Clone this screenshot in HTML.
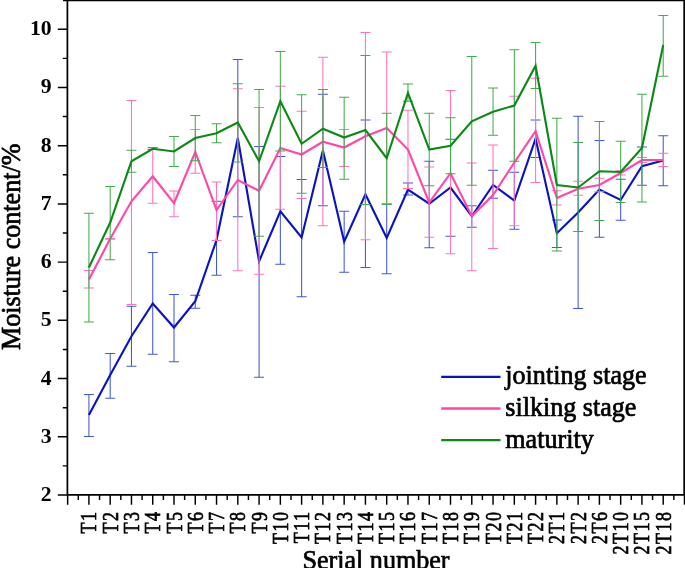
<!DOCTYPE html>
<html lang="en"><head><meta charset="utf-8"><title>Moisture content chart</title>
<style>
html,body{margin:0;padding:0;background:#fff;}
body{width:685px;height:568px;overflow:hidden;}
svg{display:block;}
</style></head><body>
<svg width="685" height="568" viewBox="0 0 685 568">
<rect width="685" height="568" fill="#fff"/>
<path d="M88.92 394.50V436.50M83.92 394.50h10 M83.92 436.50h10 M110.19 353.50V398.25M105.19 353.50h10 M105.19 398.25h10 M131.46 306.25V366.25M126.46 306.25h10 M126.46 366.25h10 M152.73 252.50V354.25M147.73 252.50h10 M147.73 354.25h10 M174.00 294.50V361.75M169.00 294.50h10 M169.00 361.75h10 M195.27 295.25V308.25M190.27 295.25h10 M190.27 308.25h10 M216.54 201.25V275.25M211.54 201.25h10 M211.54 275.25h10 M237.81 59.50V216.75M232.81 59.50h10 M232.81 216.75h10 M259.08 146.50V377.25M254.08 146.50h10 M254.08 377.25h10 M280.35 156.50V264.25M275.35 156.50h10 M275.35 264.25h10 M301.62 179.50V296.75M296.62 179.50h10 M296.62 296.75h10 M322.89 94.25V205.75M317.89 94.25h10 M317.89 205.75h10 M344.16 211.25V272.25M339.16 211.25h10 M339.16 272.25h10 M365.43 120.00V267.50M360.43 120.00h10 M360.43 267.50h10 M386.70 204.10V273.75M381.70 204.10h10 M381.70 273.75h10 M407.97 183.00V195.00M402.97 183.00h10 M402.97 195.00h10 M429.24 161.25V247.75M424.24 161.25h10 M424.24 247.75h10 M450.51 139.25V236.25M445.51 139.25h10 M445.51 236.25h10 M471.78 205.75V227.25M466.78 205.75h10 M466.78 227.25h10 M493.05 170.25V198.25M488.05 170.25h10 M488.05 198.25h10 M514.32 172.25V229.25M509.32 172.25h10 M509.32 229.25h10 M535.59 120.00V157.50M530.59 120.00h10 M530.59 157.50h10 M556.86 220.00V247.50M551.86 220.00h10 M551.86 247.50h10 M578.13 116.25V308.50M573.13 116.25h10 M573.13 308.50h10 M599.40 140.50V237.25M594.40 140.50h10 M594.40 237.25h10 M620.67 179.25V220.25M615.67 179.25h10 M615.67 220.25h10 M641.94 147.00V185.25M636.94 147.00h10 M636.94 185.25h10 M663.21 135.75V185.75M658.21 135.75h10 M658.21 185.75h10" stroke="#4258da" stroke-width="1.05" fill="none"/>
<polyline points="88.92,415.00 110.19,375.00 131.46,336.25 152.73,303.50 174.00,327.50 195.27,301.25 216.54,240.00 237.81,138.00 259.08,261.25 280.35,211.25 301.62,237.50 322.89,150.50 344.16,241.75 365.43,194.25 386.70,238.00 407.97,189.50 429.24,203.75 450.51,187.50 471.78,216.25 493.05,185.00 514.32,200.50 535.59,138.75 556.86,233.25 578.13,212.50 599.40,189.50 620.67,200.00 641.94,166.25 663.21,160.50" stroke="#0a14be" stroke-width="2.12" fill="none" stroke-linejoin="miter"/>
<path d="M88.92 270.50V288.00M83.92 270.50h10 M83.92 288.00h10 M110.19 238.40V239.20M105.19 238.40h10 M105.19 239.20h10 M131.46 100.50V304.50M126.46 100.50h10 M126.46 304.50h10 M152.73 149.00V203.25M147.73 149.00h10 M147.73 203.25h10 M174.00 191.00V216.75M169.00 191.00h10 M169.00 216.75h10 M195.27 129.50V173.25M190.27 129.50h10 M190.27 173.25h10 M216.54 182.00V240.50M211.54 182.00h10 M211.54 240.50h10 M237.81 88.75V270.75M232.81 88.75h10 M232.81 270.75h10 M259.08 107.50V274.25M254.08 107.50h10 M254.08 274.25h10 M280.35 86.25V209.25M275.35 86.25h10 M275.35 209.25h10 M301.62 111.25V198.50M296.62 111.25h10 M296.62 198.50h10 M322.89 57.25V225.75M317.89 57.25h10 M317.89 225.75h10 M344.16 129.50V166.50M339.16 129.50h10 M339.16 166.50h10 M365.43 32.50V239.75M360.43 32.50h10 M360.43 239.75h10 M386.70 52.00V203.40M381.70 52.00h10 M381.70 203.40h10 M407.97 110.25V188.60M402.97 110.25h10 M402.97 188.60h10 M429.24 167.00V237.25M424.24 167.00h10 M424.24 237.25h10 M450.51 90.50V253.75M445.51 90.50h10 M445.51 253.75h10 M471.78 163.00V270.75M466.78 163.00h10 M466.78 270.75h10 M493.05 145.00V248.50M488.05 145.00h10 M488.05 248.50h10 M514.32 96.25V225.75M509.32 96.25h10 M509.32 225.75h10 M535.59 78.25V182.50M530.59 78.25h10 M530.59 182.50h10 M556.86 190.75V205.00M551.86 190.75h10 M551.86 205.00h10 M578.13 181.25V195.25M573.13 181.25h10 M573.13 195.25h10 M599.40 178.25V191.75M594.40 178.25h10 M594.40 191.75h10 M620.67 170.75V175.00M615.67 170.75h10 M615.67 175.00h10 M641.94 157.50V162.50M636.94 157.50h10 M636.94 162.50h10 M663.21 153.25V166.50M658.21 153.25h10 M658.21 166.50h10" stroke="#ff74c0" stroke-width="1.05" fill="none"/>
<polyline points="88.92,279.50 110.19,238.75 131.46,201.25 152.73,176.25 174.00,203.25 195.27,152.00 216.54,210.00 237.81,180.00 259.08,190.75 280.35,148.00 301.62,154.50 322.89,141.75 344.16,147.50 365.43,136.25 386.70,128.00 407.97,149.50 429.24,202.50 450.51,173.25 471.78,216.25 493.05,195.00 514.32,162.50 535.59,131.25 556.86,198.00 578.13,188.75 599.40,185.00 620.67,173.00 641.94,160.00 663.21,160.00" stroke="#ff47a8" stroke-width="2.12" fill="none" stroke-linejoin="miter"/>
<path d="M88.92 213.25V322.00M83.92 213.25h10 M83.92 322.00h10 M110.19 186.50V259.75M105.19 186.50h10 M105.19 259.75h10 M131.46 150.25V172.25M126.46 150.25h10 M126.46 172.25h10 M152.73 147.50V149.50M147.73 147.50h10 M147.73 149.50h10 M174.00 136.50V166.50M169.00 136.50h10 M169.00 166.50h10 M195.27 115.50V160.75M190.27 115.50h10 M190.27 160.75h10 M216.54 123.75V142.75M211.54 123.75h10 M211.54 142.75h10 M237.81 83.75V162.00M232.81 83.75h10 M232.81 162.00h10 M259.08 89.50V236.25M254.08 89.50h10 M254.08 236.25h10 M280.35 51.50V151.00M275.35 51.50h10 M275.35 151.00h10 M301.62 94.75V193.25M296.62 94.75h10 M296.62 193.25h10 M322.89 89.50V167.50M317.89 89.50h10 M317.89 167.50h10 M344.16 97.25V179.25M339.16 97.25h10 M339.16 179.25h10 M365.43 55.50V204.50M360.43 55.50h10 M360.43 204.50h10 M386.70 113.25V204.40M381.70 113.25h10 M381.70 204.40h10 M407.97 84.00V101.25M402.97 84.00h10 M402.97 101.25h10 M429.24 113.25V185.75M424.24 113.25h10 M424.24 185.75h10 M450.51 117.75V173.75M445.51 117.75h10 M445.51 173.75h10 M471.78 56.50V185.25M466.78 56.50h10 M466.78 185.25h10 M493.05 88.00V135.25M488.05 88.00h10 M488.05 135.25h10 M514.32 49.75V161.25M509.32 49.75h10 M509.32 161.25h10 M535.59 42.50V88.50M530.59 42.50h10 M530.59 88.50h10 M556.86 118.25V251.00M551.86 118.25h10 M551.86 251.00h10 M578.13 142.50V231.50M573.13 142.50h10 M573.13 231.50h10 M599.40 121.50V220.50M594.40 121.50h10 M594.40 220.50h10 M620.67 141.25V202.50M615.67 141.25h10 M615.67 202.50h10 M641.94 94.25V202.00M636.94 94.25h10 M636.94 202.00h10 M663.21 15.50V76.25M658.21 15.50h10 M658.21 76.25h10" stroke="#44ac4e" stroke-width="1.05" fill="none"/>
<polyline points="88.92,267.50 110.19,222.50 131.46,161.25 152.73,148.75 174.00,151.50 195.27,138.00 216.54,133.25 237.81,122.50 259.08,161.25 280.35,101.25 301.62,143.75 322.89,128.75 344.16,137.50 365.43,130.00 386.70,158.25 407.97,93.00 429.24,149.50 450.51,145.75 471.78,121.25 493.05,111.75 514.32,105.50 535.59,65.75 556.86,185.00 578.13,187.50 599.40,171.25 620.67,172.00 641.94,148.00 663.21,45.00" stroke="#0a8a14" stroke-width="2.12" fill="none" stroke-linejoin="miter"/>
<path d="M67.40 0V495.60 M66.55 494.75H686 M684.2 0V495.60 M63 0.45H686" stroke="#000" stroke-width="1.75" fill="none"/>
<path d="M57.80 495.00H67.40 M62.80 465.89H67.40 M57.80 436.78H67.40 M62.80 407.67H67.40 M57.80 378.56H67.40 M62.80 349.45H67.40 M57.80 320.34H67.40 M62.80 291.23H67.40 M57.80 262.12H67.40 M62.80 233.01H67.40 M57.80 203.90H67.40 M62.80 174.79H67.40 M57.80 145.68H67.40 M62.80 116.57H67.40 M57.80 87.46H67.40 M62.80 58.35H67.40 M57.80 29.24H67.40 M67.65 494.75V504.85 M78.29 494.75V499.95 M88.92 494.75V504.85 M99.56 494.75V499.95 M110.19 494.75V504.85 M120.83 494.75V499.95 M131.46 494.75V504.85 M142.09 494.75V499.95 M152.73 494.75V504.85 M163.37 494.75V499.95 M174.00 494.75V504.85 M184.63 494.75V499.95 M195.27 494.75V504.85 M205.91 494.75V499.95 M216.54 494.75V504.85 M227.18 494.75V499.95 M237.81 494.75V504.85 M248.44 494.75V499.95 M259.08 494.75V504.85 M269.72 494.75V499.95 M280.35 494.75V504.85 M290.99 494.75V499.95 M301.62 494.75V504.85 M312.25 494.75V499.95 M322.89 494.75V504.85 M333.52 494.75V499.95 M344.16 494.75V504.85 M354.79 494.75V499.95 M365.43 494.75V504.85 M376.07 494.75V499.95 M386.70 494.75V504.85 M397.34 494.75V499.95 M407.97 494.75V504.85 M418.61 494.75V499.95 M429.24 494.75V504.85 M439.88 494.75V499.95 M450.51 494.75V504.85 M461.14 494.75V499.95 M471.78 494.75V504.85 M482.41 494.75V499.95 M493.05 494.75V504.85 M503.68 494.75V499.95 M514.32 494.75V504.85 M524.96 494.75V499.95 M535.59 494.75V504.85 M546.23 494.75V499.95 M556.86 494.75V504.85 M567.50 494.75V499.95 M578.13 494.75V504.85 M588.76 494.75V499.95 M599.40 494.75V504.85 M610.03 494.75V499.95 M620.67 494.75V504.85 M631.30 494.75V499.95 M641.94 494.75V504.85 M652.57 494.75V499.95 M663.21 494.75V504.85 M673.84 494.75V499.95 M684.48 494.75V504.85" stroke="#000" stroke-width="1.45" fill="none"/>
<g font-family="'Liberation Serif', serif" font-weight="bold" font-size="21.7" text-anchor="end" fill="#000">
<text x="51.7" y="501.00">2</text>
<text x="51.7" y="442.78">3</text>
<text x="51.7" y="384.56">4</text>
<text x="51.7" y="326.34">5</text>
<text x="51.7" y="268.12">6</text>
<text x="51.7" y="209.90">7</text>
<text x="51.7" y="151.68">8</text>
<text x="51.7" y="93.46">9</text>
<text x="51.7" y="35.24">10</text>
</g>
<g font-family="'Liberation Serif', serif" font-size="18" letter-spacing="1.5" text-anchor="end" fill="#000" stroke="#000" stroke-width="0.55">
<text transform="translate(88.92 512) rotate(-90) scale(1 1.27)" x="1.5" y="5.9">T1</text>
<text transform="translate(110.19 512) rotate(-90) scale(1 1.27)" x="1.5" y="5.9">T2</text>
<text transform="translate(131.46 512) rotate(-90) scale(1 1.27)" x="1.5" y="5.9">T3</text>
<text transform="translate(152.73 512) rotate(-90) scale(1 1.27)" x="1.5" y="5.9">T4</text>
<text transform="translate(174.00 512) rotate(-90) scale(1 1.27)" x="1.5" y="5.9">T5</text>
<text transform="translate(195.27 512) rotate(-90) scale(1 1.27)" x="1.5" y="5.9">T6</text>
<text transform="translate(216.54 512) rotate(-90) scale(1 1.27)" x="1.5" y="5.9">T7</text>
<text transform="translate(237.81 512) rotate(-90) scale(1 1.27)" x="1.5" y="5.9">T8</text>
<text transform="translate(259.08 512) rotate(-90) scale(1 1.27)" x="1.5" y="5.9">T9</text>
<text transform="translate(280.35 512) rotate(-90) scale(1 1.27)" x="1.5" y="5.9">T10</text>
<text transform="translate(301.62 512) rotate(-90) scale(1 1.27)" x="1.5" y="5.9">T11</text>
<text transform="translate(322.89 512) rotate(-90) scale(1 1.27)" x="1.5" y="5.9">T12</text>
<text transform="translate(344.16 512) rotate(-90) scale(1 1.27)" x="1.5" y="5.9">T13</text>
<text transform="translate(365.43 512) rotate(-90) scale(1 1.27)" x="1.5" y="5.9">T14</text>
<text transform="translate(386.70 512) rotate(-90) scale(1 1.27)" x="1.5" y="5.9">T15</text>
<text transform="translate(407.97 512) rotate(-90) scale(1 1.27)" x="1.5" y="5.9">T16</text>
<text transform="translate(429.24 512) rotate(-90) scale(1 1.27)" x="1.5" y="5.9">T17</text>
<text transform="translate(450.51 512) rotate(-90) scale(1 1.27)" x="1.5" y="5.9">T18</text>
<text transform="translate(471.78 512) rotate(-90) scale(1 1.27)" x="1.5" y="5.9">T19</text>
<text transform="translate(493.05 512) rotate(-90) scale(1 1.27)" x="1.5" y="5.9">T20</text>
<text transform="translate(514.32 512) rotate(-90) scale(1 1.27)" x="1.5" y="5.9">T21</text>
<text transform="translate(535.59 512) rotate(-90) scale(1 1.27)" x="1.5" y="5.9">T22</text>
<text transform="translate(556.86 512) rotate(-90) scale(1 1.27)" x="1.5" y="5.9">2T1</text>
<text transform="translate(578.13 512) rotate(-90) scale(1 1.27)" x="1.5" y="5.9">2T2</text>
<text transform="translate(599.40 512) rotate(-90) scale(1 1.27)" x="1.5" y="5.9">2T6</text>
<text transform="translate(620.67 512) rotate(-90) scale(1 1.27)" x="1.5" y="5.9">2T10</text>
<text transform="translate(641.94 512) rotate(-90) scale(1 1.27)" x="1.5" y="5.9">2T15</text>
<text transform="translate(663.21 512) rotate(-90) scale(1 1.27)" x="1.5" y="5.9">2T18</text>
</g>
<g font-family="'Liberation Serif', serif" font-size="26.1" fill="#000" stroke="#000" stroke-width="0.7" stroke-linejoin="round">
<text transform="translate(19.7 246.8) rotate(-90) scale(1 1.07)" text-anchor="middle">Moisture content/%</text>
<text transform="translate(376 568.6) scale(1 1.07)" text-anchor="middle">Serial number</text>
<line x1="441.2" x2="500.5" y1="376.90" y2="376.90" stroke="#0a14be" stroke-width="2.3"/>
<text transform="translate(505.3 384.20) scale(1 1.07)">jointing stage</text>
<line x1="441.2" x2="500.5" y1="408.50" y2="408.50" stroke="#ff47a8" stroke-width="2.3"/>
<text transform="translate(505.3 415.80) scale(1 1.07)">silking stage</text>
<line x1="441.2" x2="500.5" y1="440.20" y2="440.20" stroke="#0a8a14" stroke-width="2.3"/>
<text transform="translate(505.3 447.50) scale(1 1.07)">maturity</text>
</g>
</svg>
</body></html>
